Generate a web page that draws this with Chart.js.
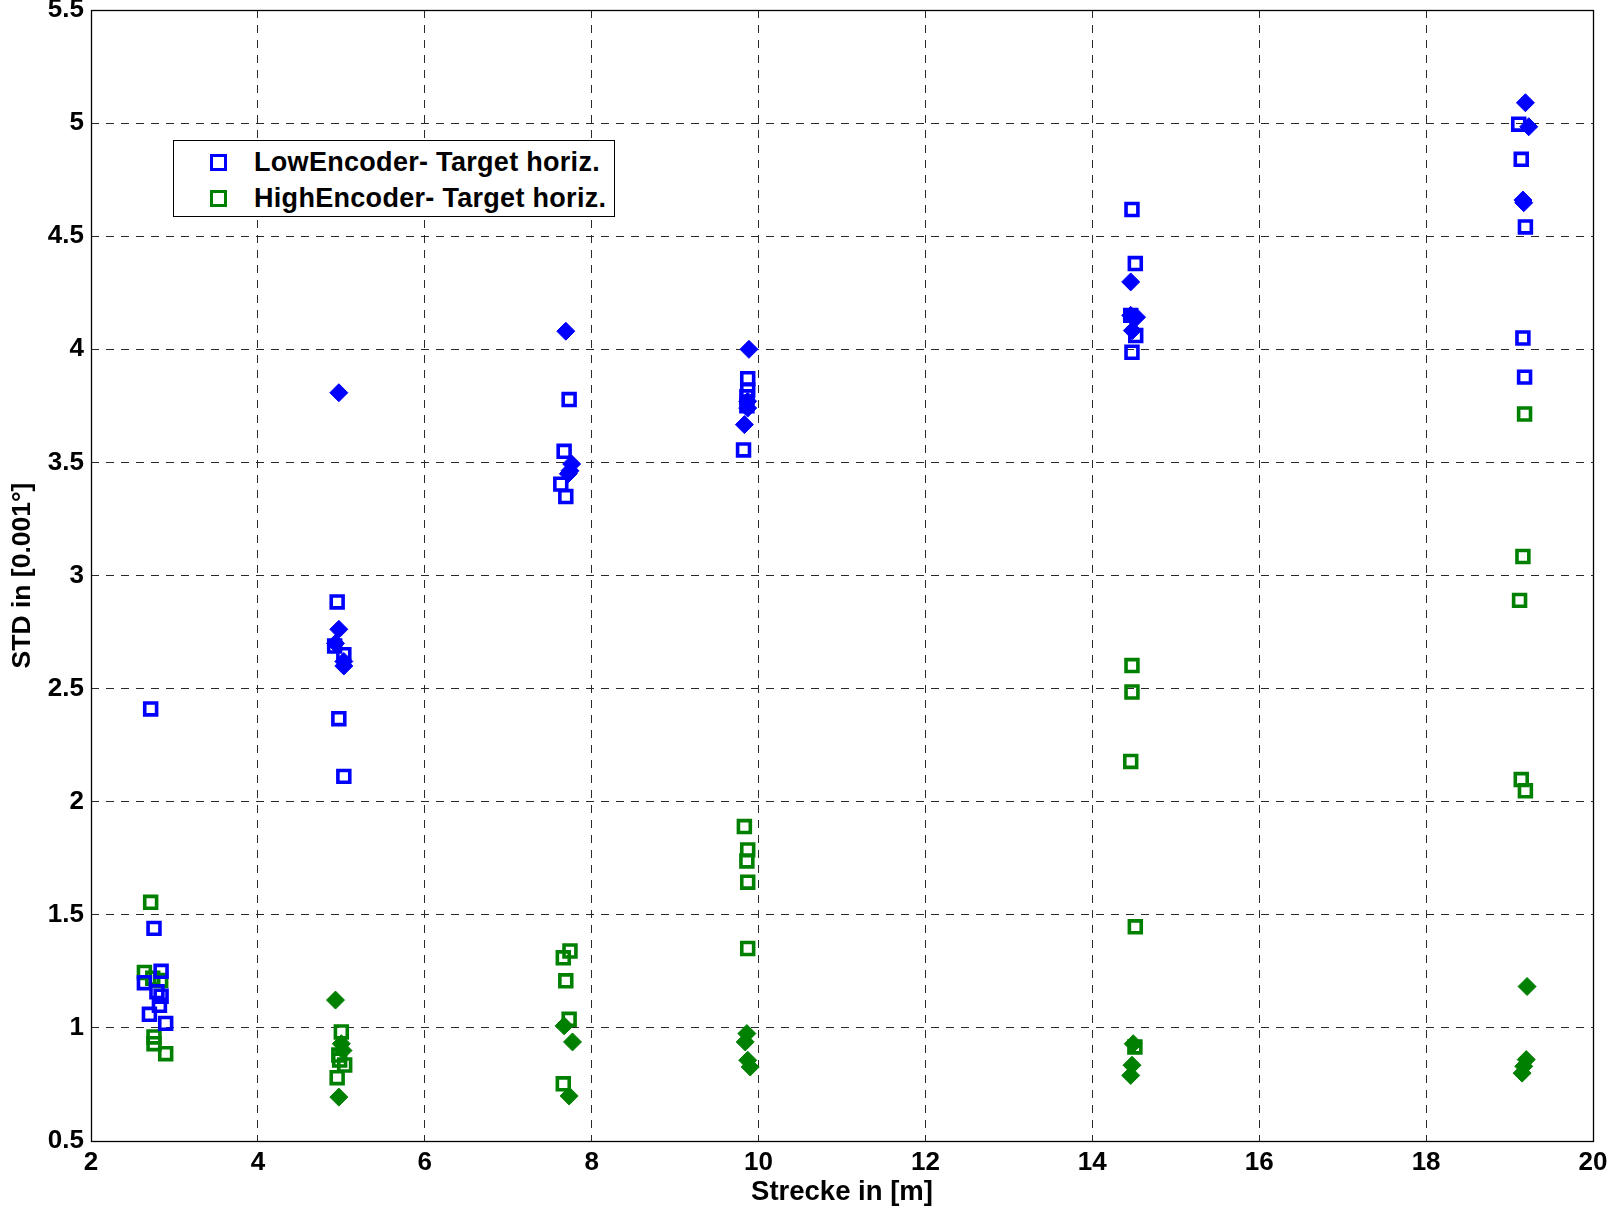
<!DOCTYPE html>
<html><head><meta charset="utf-8">
<script src="https://cdn.jsdelivr.net/npm/chart.js@4.4.1/dist/chart.umd.min.js"></script>
<style>
html,body{margin:0;padding:0;background:#fff;}
#wrap{position:relative;width:1609px;height:1208px;}
canvas{display:block;}
#legend{position:absolute;left:173px;top:140px;width:442px;height:77px;border:1px solid #000;background:#fff;box-sizing:border-box;font:bold 27px "Liberation Sans",Arial,sans-serif;color:#000;}
.row{position:absolute;left:0;height:30px;display:flex;align-items:center;white-space:nowrap;}
.mk{position:absolute;left:36px;width:11px;height:11px;border:3.5px solid;box-sizing:content-box;}
.lbl{position:absolute;left:80px;letter-spacing:0.3px;}
</style>
</head><body>
<div id="wrap">
<canvas id="c" width="1609" height="1208"></canvas>
<div id="legend"></div>
</div>
<script>
// ---- data ----
const legendLabels = ["LowEncoder- Target horiz.", "HighEncoder- Target horiz."];
const xTitle = "Strecke in [m]";
const yTitle = "STD in [0.001°]";
const xTicks = [2,4,6,8,10,12,14,16,18,20];
const xTickLabels = ["2","4","6","8","10","12","14","16","18","20"];
const yTicks = [0.5,1,1.5,2,2.5,3,3.5,4,4.5,5,5.5];
const yTickLabels = ["0.5","1","1.5","2","2.5","3","3.5","4","4.5","5","5.5"];

// LowEncoder horiz (blue squares)
const lowHx = [2.715,2.755,2.84,2.64,2.79,2.84,2.82,2.70,2.895,
  4.95,4.92,5.03,4.97,5.03,
  7.73,7.67,7.63,7.69,
  9.87,9.87,9.86,9.86,9.82,
  14.475,14.515,14.46,14.52,14.475,
  19.11,19.14,19.19,19.16,19.18];
const lowHy = [2.41,1.44,1.25,1.20,1.16,1.14,1.10,1.06,1.02,
  2.883,2.688,2.65,2.367,2.112,
  3.778,3.549,3.404,3.349,
  3.87,3.82,3.79,3.75,3.555,
  4.618,4.379,4.15,4.061,3.987,
  4.995,4.84,4.541,4.05,3.877];
// HighEncoder horiz (green squares)
const highHx = [2.715,2.64,2.74,2.835,2.755,2.755,2.895,
  5.0,4.97,4.98,5.04,4.95,
  7.74,7.66,7.69,7.73,7.66,
  9.83,9.87,9.86,9.87,9.87,
  14.475,14.475,14.46,14.515,14.51,
  19.18,19.16,19.12,19.14,19.19];
const highHy = [1.555,1.245,1.22,1.21,0.96,0.93,0.886,
  0.982,0.88,0.858,0.836,0.78,
  1.34,1.31,1.208,1.038,0.753,
  1.89,1.787,1.738,1.644,1.351,
  2.602,2.485,2.178,1.447,0.916,
  3.714,3.084,2.890,2.098,2.048];
// LowEncoder second series (blue diamonds)
const lowVx = [4.97,4.97,4.93,5.03,5.03,
  7.69,7.76,7.74,7.72,
  9.885,9.87,9.87,9.83,
  14.46,14.46,14.53,14.48,
  19.19,19.23,19.17,19.16];
const lowVy = [3.808,2.762,2.70,2.62,2.60,
  4.08,3.493,3.463,3.45,
  4.0,3.77,3.74,3.667,
  4.298,4.15,4.142,4.083,
  5.09,4.984,4.648,4.66];
// HighEncoder second series (green diamonds)
const highVx = [4.93,5.0,5.02,4.97,
  7.67,7.77,7.73,
  9.86,9.84,9.87,9.90,
  14.49,14.475,14.46,
  19.21,19.2,19.17,19.15];
const highVy = [1.123,0.93,0.90,0.694,
  1.009,0.938,0.699,
  0.975,0.938,0.857,0.827,
  0.93,0.835,0.79,
  1.183,0.86,0.83,0.80];

const BLUE = '#0000FF', GREEN = '#008000';
const pts = (xs, ys) => xs.map((x,i)=>({x:x, y:ys[i]}));
const FONT = '"Liberation Sans", Arial, Helvetica, sans-serif';

const frame = {
  id:'frame',
  afterDraw(chart){
    const a = chart.chartArea, c = chart.ctx;
    c.save(); c.strokeStyle='#000'; c.lineWidth=1.3; c.setLineDash([]);
    c.strokeRect(Math.round(a.left)+0.5, Math.round(a.top)+0.5, Math.round(a.right-a.left), Math.round(a.bottom-a.top));
    c.restore();
  }
};

new Chart(document.getElementById('c'), {
  type:'scatter',
  data:{datasets:[
    {label:legendLabels[0], data:pts(lowHx,lowHy), pointStyle:'rect', pointRadius:8.4, borderWidth:3.6, borderColor:BLUE, backgroundColor:'rgba(0,0,0,0)'},
    {label:legendLabels[1], data:pts(highHx,highHy), pointStyle:'rect', pointRadius:8.4, borderWidth:3.6, borderColor:GREEN, backgroundColor:'rgba(0,0,0,0)'},
    {label:'Low diamonds', data:pts(lowVx,lowVy), pointStyle:'rectRot', pointRadius:9, borderWidth:1, borderColor:BLUE, backgroundColor:BLUE},
    {label:'High diamonds', data:pts(highVx,highVy), pointStyle:'rectRot', pointRadius:9, borderWidth:1, borderColor:GREEN, backgroundColor:GREEN}
  ]},
  options:{
    responsive:false, animation:false, devicePixelRatio:1,
    layout:{padding:{left:0,right:16,top:10,bottom:0}, autoPadding:false},
    plugins:{legend:{display:false}, tooltip:{enabled:false}},
    scales:{
      x:{type:'linear', min:2, max:20,
        afterBuildTicks:(s)=>{s.ticks = xTicks.map(v=>({value:v}));},
        afterFit:(s)=>{s.height = 67; s.paddingLeft = 0; s.paddingRight = 0; s.paddingTop = 0; s.paddingBottom = 0;},
        ticks:{callback:(v)=>xTickLabels[xTicks.indexOf(v)], color:'#000', font:{family:FONT, size:26, weight:'bold'}, padding:6, maxRotation:0, autoSkip:false},
        grid:{color:'#2a2a2a', lineWidth:1, drawTicks:false, borderDash:[8,7]},
        border:{display:false, dash:[8,7]},
        title:{display:true, text:xTitle, color:'#000', font:{family:FONT, size:27.5, weight:'bold', lineHeight:1.1}, padding:{top:0,bottom:0}}
      },
      y:{type:'linear', min:0.5, max:5.5,
        afterBuildTicks:(s)=>{s.ticks = yTicks.map(v=>({value:v}));},
        afterFit:(s)=>{s.width = 91; s.paddingLeft = 0; s.paddingRight = 0; s.paddingTop = 0; s.paddingBottom = 0;},
        ticks:{callback:(v)=>yTickLabels[yTicks.indexOf(v)], color:'#000', font:{family:FONT, size:26, weight:'bold'}, padding:7, autoSkip:false},
        grid:{color:'#2a2a2a', lineWidth:1, drawTicks:false, borderDash:[8,7]},
        border:{display:false, dash:[8,7]},
        title:{display:true, text:yTitle, color:'#000', font:{family:FONT, size:26.5, weight:'bold'}, padding:{top:7,bottom:0}}
      }
    }
  },
  plugins:[frame]
});

// legend overlay
const lg = document.getElementById('legend');
const cols = [BLUE, GREEN];
const rowsY = [6, 42];
legendLabels.forEach((t,i)=>{
  const r = document.createElement('div');
  r.className='row'; r.style.top = rowsY[i]+'px'; r.style.width='100%';
  const m = document.createElement('div'); m.className='mk'; m.style.borderColor=cols[i]; m.style.top='7px';
  const l = document.createElement('span'); l.className='lbl'; l.textContent=t;
  r.appendChild(m); r.appendChild(l); lg.appendChild(r);
});
</script>
</body></html>
